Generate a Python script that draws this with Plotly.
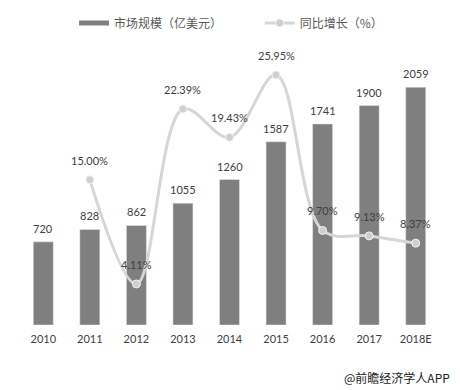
import plotly.graph_objects as go

years = ["2010", "2011", "2012", "2013", "2014", "2015", "2016", "2017", "2018E"]
market = [720, 828, 862, 1055, 1260, 1587, 1741, 1900, 2059]
growth_years = ["2011", "2012", "2013", "2014", "2015", "2016", "2017", "2018E"]
growth = [15.00, 4.11, 22.39, 19.43, 25.95, 9.70, 9.13, 8.37]
growth_labels = ["15.00%", "4.11%", "22.39%", "19.43%", "25.95%", "9.70%", "9.13%", "8.37%"]

BAR = "#7f7f7f"
LINE = "#d6d6d6"
TXT = "#404040"
NUMFONT = "Lato, 'Noto Sans CJK SC', sans-serif"
CJK = "'Noto Sans CJK SC', sans-serif"

fig = go.Figure()
fig.add_trace(go.Bar(x=years, y=market, marker_color=BAR, width=0.43,
                     showlegend=False, hoverinfo="skip"))
# legend-only proxy for bar series (wide flat swatch)
fig.add_trace(go.Scatter(x=years, y=[None] * len(years), mode="lines", name="市场规模（亿美元）",
                         line=dict(color=BAR, width=5), legend="legend", hoverinfo="skip"))
fig.add_trace(go.Scatter(x=growth_years, y=growth, yaxis="y2", mode="lines+markers",
                         name="同比增长（%）", legend="legend2",
                         line=dict(color=LINE, width=3, shape="spline", smoothing=1.0),
                         marker=dict(size=8, color="#cfcfcf", line=dict(color="#f2f2f2", width=1))))

ann = []
for x, v in zip(years, market):
    ann.append(dict(x=years.index(x), y=v, xref="x", yref="y", text=str(v), showarrow=False,
                    yanchor="bottom", yshift=5, font=dict(family=NUMFONT, size=11, color=TXT)))
for x, v, t in zip(growth_years, growth, growth_labels):
    ann.append(dict(x=years.index(x), y=v, xref="x", yref="y2", text=t, showarrow=False,
                    yanchor="bottom", yshift=11, font=dict(family=NUMFONT, size=11, color=TXT)))
ann.append(dict(x=1, y=0, xref="paper", yref="paper", text="@前瞻经济学人APP", showarrow=False,
                xanchor="right", yanchor="middle", xshift=13, yshift=-52,
                font=dict(family=CJK, size=12, color="#222222")))

# page body has an 8px margin, so the figure is sized to fit the 460x390 window
fig.update_layout(
    width=452, height=382,
    margin=dict(l=12, r=21, t=32, b=65, autoexpand=False),
    paper_bgcolor="white", plot_bgcolor="white",
    bargap=0.57,
    xaxis=dict(type="category", categoryorder="array", categoryarray=years,
               range=[-0.5, len(years) - 0.5], automargin=False,
               showgrid=False, zeroline=False, showline=False, ticklabelstandoff=6,
               ticks="", tickfont=dict(family=NUMFONT, size=11, color=TXT)),
    yaxis=dict(range=[0, 2468], visible=False, showgrid=False),
    yaxis2=dict(range=[-0.18, 29.6], overlaying="y", visible=False, showgrid=False),
    legend=dict(orientation="h", x=0.129, y=1.06, xref="paper", yref="paper",
                xanchor="left", yanchor="middle",
                font=dict(family=CJK, size=12, color="#595959"), bgcolor="rgba(0,0,0,0)"),
    legend2=dict(orientation="h", x=0.572, y=1.06, xref="paper", yref="paper",
                 xanchor="left", yanchor="middle",
                 font=dict(family=CJK, size=12, color="#595959"), bgcolor="rgba(0,0,0,0)"),
    annotations=ann,
)

fig.write_html("out.html")
